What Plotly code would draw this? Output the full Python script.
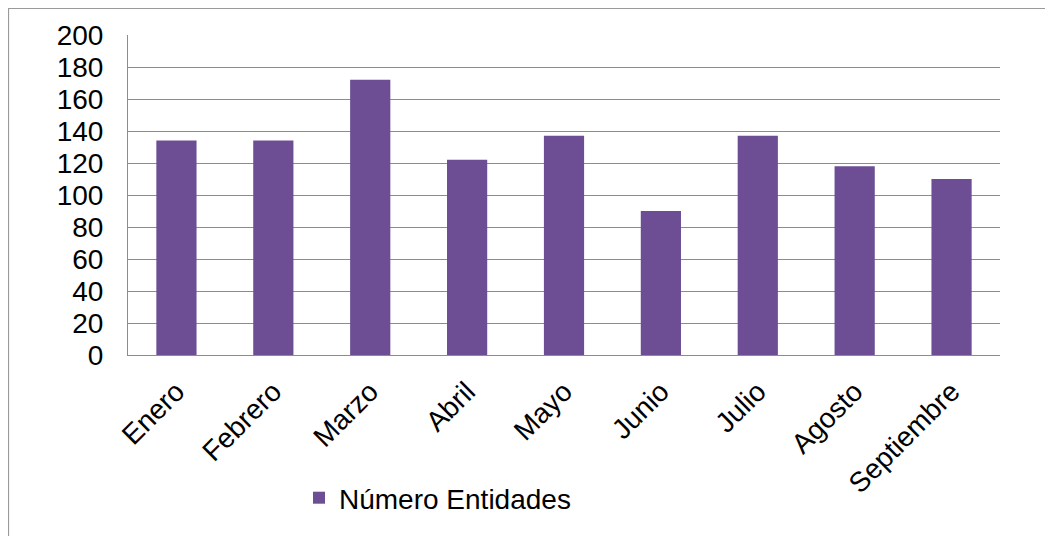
import plotly.graph_objects as go

meses = ["Enero", "Febrero", "Marzo", "Abril", "Mayo", "Junio", "Julio", "Agosto", "Septiembre"]
entidades = [134, 134, 172, 122, 137, 90, 137, 118, 110]
serie_nombre = "Número Entidades"
y_ticks = [0, 20, 40, 60, 80, 100, 120, 140, 160, 180, 200]

# The page has an 8px body margin, so figure coordinates = page coordinates - 8
OFF = 8
W, H = 1053, 536
L, T = 128 - OFF, 35 - OFF
R = W - (1000 - OFF)
B = H - (355 - OFF)
pw, ph = W - L - R, H - T - B

def px_to_paper_x(px):
    return (px - OFF - L) / pw

def px_to_paper_y(py):
    return (H - B - (py - OFF)) / ph

fig = go.Figure()
fig.add_trace(go.Bar(
    x=meses, y=entidades, name=serie_nombre,
    marker=dict(color="#6D4E95", line=dict(width=0)),
    showlegend=True,
))

font = dict(family="Liberation Sans, Arial, sans-serif", size=28, color="#000000")

fig.update_layout(
    width=W, height=H,
    margin=dict(l=L, r=R, t=T, b=B, autoexpand=False),
    paper_bgcolor="white", plot_bgcolor="white",
    font=font,
    bargap=0.585,
    showlegend=True,
    legend=dict(
        orientation="h", x=px_to_paper_x(299), y=px_to_paper_y(498),
        xanchor="left", yanchor="middle",
        font=font,
        itemwidth=30, bgcolor="rgba(0,0,0,0)",
    ),
    xaxis=dict(
        tickangle=-45, showgrid=False, showline=True, linecolor="#8c8c8c", linewidth=1,
        ticks="", tickfont=font, ticklabelstandoff=8,
    ),
    yaxis=dict(
        range=[0, 200], tickvals=y_ticks, ticktext=[str(v) for v in y_ticks],
        showgrid=True, gridcolor="#8c8c8c", gridwidth=1,
        showline=True, linecolor="#8c8c8c", linewidth=1,
        ticks="", tickfont=font, ticklabelstandoff=18, zeroline=False,
    ),
    shapes=[dict(
        type="rect", xref="paper", yref="paper",
        x0=px_to_paper_x(8.5), x1=px_to_paper_x(1070),
        y0=px_to_paper_y(560), y1=px_to_paper_y(8.5),
        line=dict(color="#9a9a9a", width=1.2), fillcolor="rgba(0,0,0,0)", layer="below",
    )],
)

fig.write_html("out.html")
